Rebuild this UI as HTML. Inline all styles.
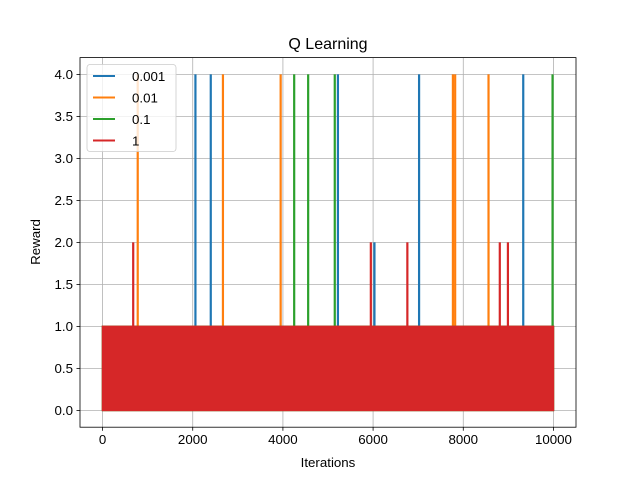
<!DOCTYPE html>
<html><head><meta charset="utf-8"><style>body{margin:0;background:#fff}svg{display:block;font-family:"Liberation Sans","DejaVu Sans",sans-serif}</style></head>
<body>
<svg id="chart" width="640" height="480" xmlns="http://www.w3.org/2000/svg">
<rect width="640" height="480" fill="#fff"/>
<g id="grid"></g>
<g id="marks"></g>
<rect x="80" y="57.6" width="496" height="369.6" fill="none" stroke="#000" stroke-width="0.8"/>
<g id="ticks"></g>
<text x="328" y="49" text-anchor="middle" font-size="16">Q Learning</text>
<text x="328" y="467" text-anchor="middle" font-size="13.3">Iterations</text>
<text transform="translate(40,242) rotate(-90)" text-anchor="middle" font-size="13.3">Reward</text>
<g id="legend"></g>
</svg>
<script>
const seriesNames = ["0.001","0.01","0.1","1"];
const seriesColors = ["#1f77b4","#ff7f0e","#2ca02c","#d62728"];
const bandStart = [0,0,0,0];
const bandEnd = [9999,9999,9999,9999];
const bandLow = [0,0,0,0];
const bandHigh = [1,1,1,1];
const spikeIters0 = [2060,2400,5220,6030,7020,9330];
const spikeVals0  = [4,4,4,2,4,4];
const spikeIters1 = [780,2670,3950,7770,7820,8560];
const spikeVals1  = [4,4,4,4,4,4];
const spikeIters2 = [4250,4560,5150,9980];
const spikeVals2  = [4,4,4,4];
const spikeIters3 = [680,5950,6760,8810,8990];
const spikeVals3  = [2,2,2,2,2];
const xTicks = [0,2000,4000,6000,8000,10000];
const yTicks = [0,0.5,1,1.5,2,2.5,3,3.5,4];

const NS="http://www.w3.org/2000/svg";
const L=80,R=576,T=57.6,B=427.2,xmin=-500,xmax=10500,ymin=-0.2,ymax=4.2;
const X=v=>L+(v-xmin)/(xmax-xmin)*(R-L);
const Y=v=>B-(v-ymin)/(ymax-ymin)*(B-T);
function mk(t,a,p){const e=document.createElementNS(NS,t);for(const k in a)e.setAttribute(k,a[k]);p.appendChild(e);return e;}
const grid=document.getElementById('grid'),ticks=document.getElementById('ticks'),marks=document.getElementById('marks'),legend=document.getElementById('legend');
xTicks.forEach(v=>{
 const g=mk('line',{x1:X(v),x2:X(v),y1:T,y2:B,stroke:'#b0b0b0','stroke-width':0.8},grid);
 
 
 mk('line',{x1:X(v),x2:X(v),y1:B,y2:B+3.5,stroke:'#000','stroke-width':0.8},ticks);
 const t=mk('text',{x:X(v),y:B+17,'text-anchor':'middle','font-size':13.3},ticks);t.textContent=v;
 
 
});
yTicks.forEach(v=>{
 const g=mk('line',{x1:L,x2:R,y1:Y(v),y2:Y(v),stroke:'#b0b0b0','stroke-width':0.8},grid);
 
 
 mk('line',{x1:L-3.5,x2:L,y1:Y(v),y2:Y(v),stroke:'#000','stroke-width':0.8},ticks);
 const t=mk('text',{x:L-7,y:Y(v)+4.5,'text-anchor':'end','font-size':13.3},ticks);t.textContent=v.toFixed(1);
 
 
});
const spikes=[[spikeIters0,spikeVals0],[spikeIters1,spikeVals1],[spikeIters2,spikeVals2],[spikeIters3,spikeVals3]];
for(let s=0;s<4;s++){
 const c=seriesColors[s];
 const b=mk('rect',{x:X(bandStart[s]),y:Y(bandHigh[s]),width:X(bandEnd[s])-X(bandStart[s]),height:Y(bandLow[s])-Y(bandHigh[s]),fill:c,stroke:c,'stroke-width':1.5},marks);
 
 
 spikes[s][0].forEach((it,i)=>{
  const l=mk('line',{x1:X(it),x2:X(it),y1:Y(bandHigh[s]),y2:Y(spikes[s][1][i]),stroke:c,'stroke-width':2.2},marks);
  
  
 });
}
const box=mk('rect',{x:87,y:64.5,width:89,height:87,rx:3,fill:'#fff','fill-opacity':0.8,stroke:'#ccc','stroke-width':0.8},legend);


seriesNames.forEach((n,i)=>{
 const y=76+i*21.5;
 const l=mk('line',{x1:93,x2:115,y1:y,y2:y,stroke:seriesColors[i],'stroke-width':2},legend);
 
 
 const t=mk('text',{x:132,y:y+4.8,'font-size':13.3},legend);t.textContent=n;
 
 
});
</script>
</body></html>
